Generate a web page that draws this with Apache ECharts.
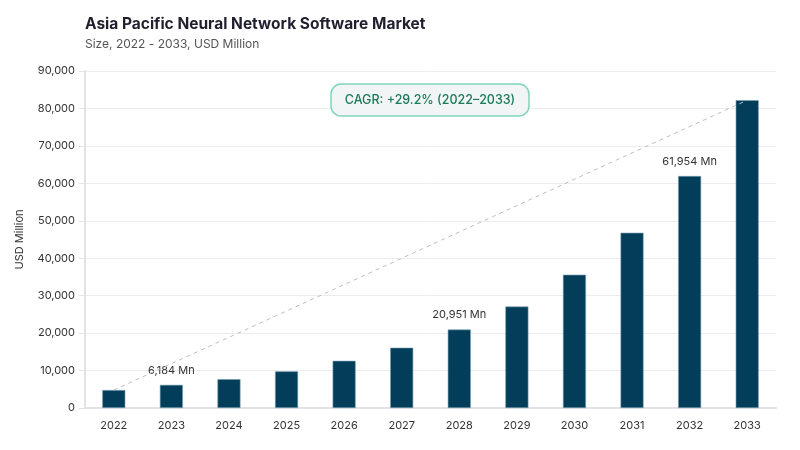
<!DOCTYPE html>
<html><head><meta charset="utf-8">
<script src="https://cdn.jsdelivr.net/npm/echarts@6/dist/echarts.min.js"></script>
<style>html,body{margin:0;padding:0;background:#fff}#c{width:800px;height:450px}</style>
</head><body><div id="c"></div>
<script>
const years = ['2022','2023','2024','2025','2026','2027','2028','2029','2030','2031','2032','2033'];
const values = [4800, 6184, 7700, 9800, 12600, 16100, 20951, 27100, 35600, 46800, 61954, 82200];
const labelledYears = ['2023','2028','2032'];
const yTicks = [0, 10000, 20000, 30000, 40000, 50000, 60000, 70000, 80000, 90000];
const cagrText = 'CAGR: +29.2% (2022\u20132033)';

const trend = values.map((v, i) => (i === 0 || i === values.length - 1) ? v : null);
const font = 'Inter, "Noto Sans", sans-serif';
const chart = echarts.init(document.getElementById('c'));
chart.setOption({
  animation: false,
  textStyle: {fontFamily: font},
  title: {
    text: 'Asia Pacific Neural Network Software Market',
    subtext: 'Size, 2022 - 2033, USD Million',
    left: 80, top: 11, itemGap: 6,
    textStyle: {fontSize: 15.5, fontWeight: 'bold', color: '#1f1f2e', fontFamily: font},
    subtextStyle: {fontSize: 12, color: '#555', fontFamily: font}
  },
  grid: {left: 85, right: 24, top: 71, bottom: 42},
  xAxis: {
    type: 'category', data: years,
    axisLine: {lineStyle: {color: '#e2e2e8', width: 2}},
    axisTick: {show: false},
    axisLabel: {color: '#333', fontSize: 11, margin: 12}
  },
  yAxis: {
    type: 'value', min: yTicks[0], max: yTicks[yTicks.length - 1], interval: 10000,
    name: 'USD Million', nameLocation: 'middle', nameGap: 60,
    nameTextStyle: {color: '#333', fontSize: 11},
    axisLine: {show: true, lineStyle: {color: '#e2e2e8', width: 2}},
    axisTick: {show: true, length: 6, lineStyle: {color: '#e2e2e8'}},
    splitLine: {lineStyle: {color: '#ececec'}},
    axisLabel: {color: '#333', fontSize: 11, margin: 10,
      formatter: v => v.toLocaleString('en-US')}
  },
  series: [
    {
      type: 'bar', data: values.map((v, i) => ({
        value: v,
        label: {show: labelledYears.includes(years[i])}
      })),
      barWidth: '40%',
      itemStyle: {color: '#023e5a', borderColor: '#7a9fb0', borderWidth: 0.6},
      label: {position: 'top', distance: 9, color: '#333', fontSize: 11,
        formatter: p => p.value.toLocaleString('en-US') + ' Mn'}
    },
    {
      type: 'line', data: trend, connectNulls: true, symbol: 'none', z: 5,
      lineStyle: {color: '#bdbdbd', type: [4, 4], width: 1}
    }
  ],
  graphic: [
    {type: 'rect', z: 10, shape: {x: 331, y: 84, width: 198, height: 32, r: 10},
      style: {fill: '#f1f5f5', stroke: '#7fd5b8', lineWidth: 1.5}},
    {type: 'text', z: 11, x: 430, y: 100,
      style: {text: cagrText, align: 'center', verticalAlign: 'middle',
        fill: '#1c7a58', font: '500 12.5px ' + font}}
  ]
});
</script></body></html>
